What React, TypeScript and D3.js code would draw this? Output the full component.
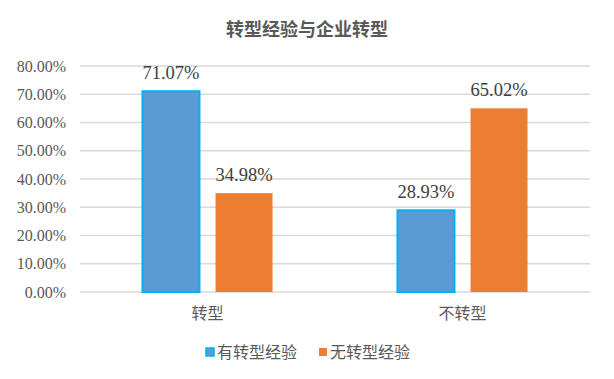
import React from "react";
import * as d3 from "d3";

const categories = ["转型", "不转型"];
const seriesNames = ["有转型经验", "无转型经验"];
const withExperience = [0.7107, 0.2893];
const withoutExperience = [0.3498, 0.6502];
const yTicks = [0, 0.1, 0.2, 0.3, 0.4, 0.5, 0.6, 0.7, 0.8];
const title = "转型经验与企业转型";

const W = 614, H = 379;
const plot = { left: 80, right: 590, top: 66, bottom: 292 };
const colors = ["#5B9BD5", "#ED7D31"];
const strokeColors = ["#00B0F0", "none"];
const serif = "'Liberation Serif', 'Times New Roman', serif";
const cjk = "'Noto Sans CJK SC', sans-serif";

export default function App() {
  const y = d3.scaleLinear().domain([0, 0.8]).range([plot.bottom, plot.top]);
  const x0 = d3.scaleBand().domain(categories).range([plot.left, plot.right]).paddingInner(0.49).paddingOuter(0.245);
  const x1 = d3.scaleBand().domain(seriesNames).range([0, x0.bandwidth()]).paddingInner(0.22);
  const series = [withExperience, withoutExperience];
  const fmt = d3.format(".2%");

  return (
    <svg width={W} height={H} style={{ position: "absolute", left: 0, top: 0, background: "#fff" }}>
      <text x={W / 2 + 0} y={36} textAnchor="middle" fontFamily={cjk} fontSize={18} fontWeight="bold" fill="#595959">{title}</text>
      {yTicks.map((t) => (
        <g key={t}>
          <line x1={plot.left} x2={plot.right} y1={y(t)} y2={y(t)} stroke="#D9D9D9" strokeWidth={1.3} />
          <text x={66} y={y(t) + 5.5} textAnchor="end" fontFamily={serif} fontSize={16} fill="#595959">{fmt(t)}</text>
        </g>
      ))}
      {categories.map((c, ci) => (
        <g key={c}>
          {series.map((vals, si) => {
            const bx = (x0(c) as number) + (x1(seriesNames[si]) as number);
            const bw = x1.bandwidth();
            const yv = y(vals[ci]);
            return (
              <g key={si}>
                <rect x={bx} y={yv} width={bw} height={plot.bottom - yv} fill={colors[si]}
                  stroke={strokeColors[si]} strokeWidth={si === 0 ? 2 : 0} />
                <text x={bx + bw / 2} y={yv - 12.5} textAnchor="middle" fontFamily={serif} fontSize={18.5} fill="#404040">{fmt(vals[ci])}</text>
              </g>
            );
          })}
          <text x={(x0(c) as number) + x0.bandwidth() / 2} y={319} textAnchor="middle" fontFamily={cjk} fontSize={16} fill="#595959">{c}</text>
        </g>
      ))}
      {seriesNames.map((s, si) => {
        const lx = si === 0 ? 206 : 319;
        return (
          <g key={s}>
            <rect x={lx} y={348} width={8} height={8} fill={colors[si]} stroke={strokeColors[si]} strokeWidth={si === 0 ? 1.5 : 0} />
            <text x={lx + 11} y={358} fontFamily={cjk} fontSize={16} fill="#595959">{s}</text>
          </g>
        );
      })}
    </svg>
  );
}
